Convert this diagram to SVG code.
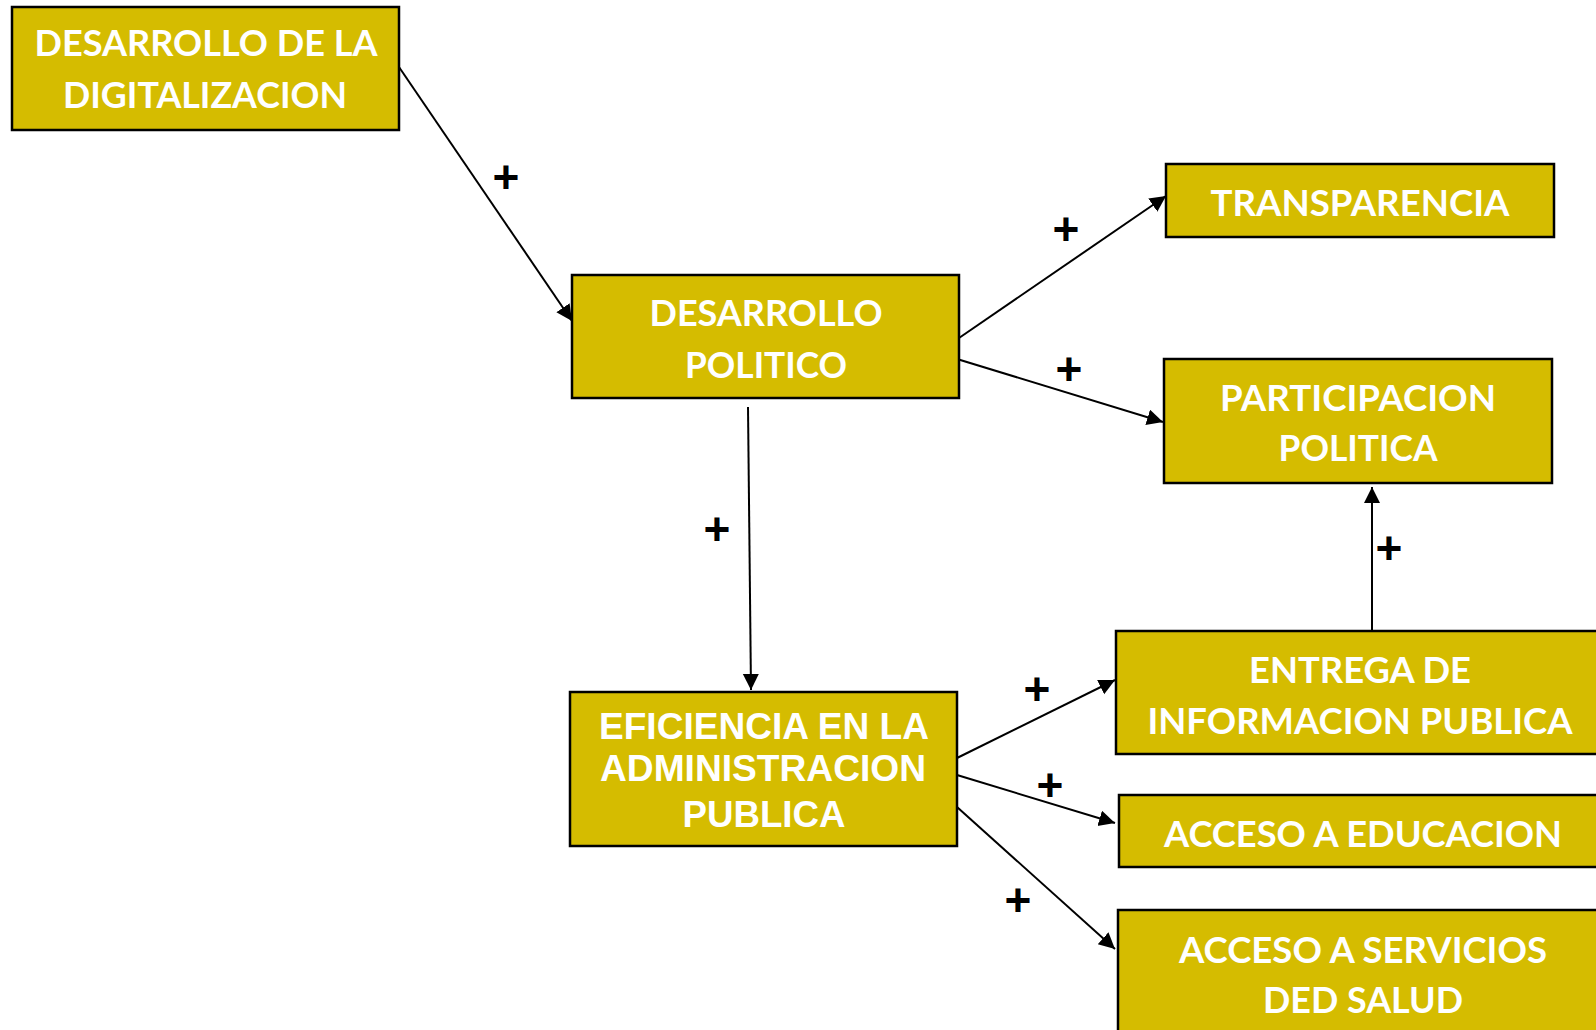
<svg xmlns="http://www.w3.org/2000/svg" width="1596" height="1030" viewBox="0 0 1596 1030">
<style>
.box{fill:#D5BC00;stroke:#000;stroke-width:2.5}
.t{font-family:Lato,"Open Sans","Liberation Sans",sans-serif;font-weight:bold;font-size:36px;fill:#fff;text-anchor:middle}
.ta{font-family:"Liberation Sans",Arial,sans-serif;font-weight:bold;font-size:37px;fill:#fff;text-anchor:middle}
.c{stroke:#000;stroke-width:2;fill:none;marker-end:url(#ah)}
.p{font-family:"Liberation Sans",Arial,sans-serif;font-weight:bold;font-size:46px;fill:#000;text-anchor:middle}
</style>
<defs>
<marker id="ah" markerUnits="userSpaceOnUse" markerWidth="18" markerHeight="18" refX="16" refY="8" orient="auto">
<path d="M0,0 L16,8 L0,16 z" fill="#000"/>
</marker>
</defs>
<rect width="1596" height="1030" fill="#fff"/>
<g id="connectors">
<line class="c" x1="399" y1="67" x2="572" y2="321"/>
<line class="c" x1="959" y1="338" x2="1166" y2="196"/>
<line class="c" x1="957" y1="359" x2="1163" y2="422"/>
<line class="c" x1="748" y1="407" x2="751" y2="690"/>
<line class="c" x1="1372" y1="631" x2="1372" y2="487"/>
<line class="c" x1="957" y1="758" x2="1115" y2="680"/>
<line class="c" x1="957" y1="775" x2="1115" y2="823"/>
<line class="c" x1="957" y1="807" x2="1115" y2="949"/>
<g id="labels">
<text class="p" x="506" y="193">+</text>
<text class="p" x="1066" y="245">+</text>
<text class="p" x="1069" y="385">+</text>
<text class="p" x="717" y="545">+</text>
<text class="p" x="1389" y="564">+</text>
<text class="p" x="1037" y="705">+</text>
<text class="p" x="1050" y="801">+</text>
<text class="p" x="1018" y="916">+</text>
</g>
</g>
<g id="n1">
<rect class="box" x="12" y="7" width="387" height="123"/>
<text class="t" x="206" y="56" textLength="343" lengthAdjust="spacingAndGlyphs">DESARROLLO DE LA</text>
<text class="t" x="205" y="108" textLength="284" lengthAdjust="spacingAndGlyphs">DIGITALIZACION</text>
</g>
<g id="n2">
<rect class="box" x="572" y="275" width="387" height="123"/>
<text class="t" x="766" y="326" textLength="233" lengthAdjust="spacingAndGlyphs">DESARROLLO</text>
<text class="t" x="766" y="378" textLength="162" lengthAdjust="spacingAndGlyphs">POLITICO</text>
</g>
<g id="n3">
<rect class="box" x="1166" y="164" width="388" height="73"/>
<text class="t" x="1360" y="216" textLength="299" lengthAdjust="spacingAndGlyphs">TRANSPARENCIA</text>
</g>
<g id="n4">
<rect class="box" x="1164" y="359" width="388" height="124"/>
<text class="t" x="1358" y="411" textLength="276" lengthAdjust="spacingAndGlyphs">PARTICIPACION</text>
<text class="t" x="1358" y="461" textLength="159" lengthAdjust="spacingAndGlyphs">POLITICA</text>
</g>
<g id="n5">
<rect class="box" x="1116" y="631" width="492" height="123"/>
<text class="t" x="1360" y="683" textLength="222" lengthAdjust="spacingAndGlyphs">ENTREGA DE</text>
<text class="t" x="1360" y="734" textLength="425" lengthAdjust="spacingAndGlyphs">INFORMACION PUBLICA</text>
</g>
<g id="n6">
<rect class="box" x="1119" y="795" width="490" height="72"/>
<text class="t" x="1363" y="847" textLength="398" lengthAdjust="spacingAndGlyphs">ACCESO A EDUCACION</text>
</g>
<g id="n7">
<rect class="box" x="1118" y="910" width="490" height="130"/>
<text class="t" x="1363" y="963" textLength="368" lengthAdjust="spacingAndGlyphs">ACCESO A SERVICIOS</text>
<text class="t" x="1363" y="1013" textLength="200" lengthAdjust="spacingAndGlyphs">DED SALUD</text>
</g>
<g id="n8">
<rect class="box" x="570" y="692" width="387" height="154"/>
<text class="ta" x="764" y="739" textLength="330" lengthAdjust="spacingAndGlyphs">EFICIENCIA EN LA</text>
<text class="ta" x="763" y="781" textLength="326" lengthAdjust="spacingAndGlyphs">ADMINISTRACION</text>
<text class="ta" x="764" y="827" textLength="163" lengthAdjust="spacingAndGlyphs">PUBLICA</text>
</g>
</svg>
